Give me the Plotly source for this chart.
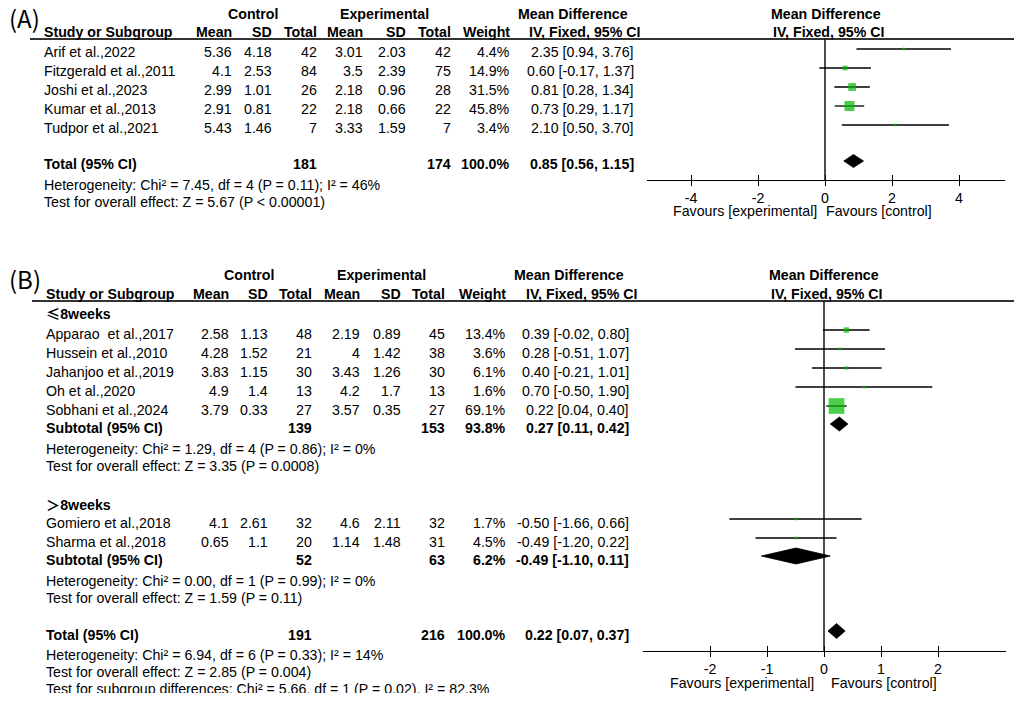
import plotly.graph_objects as go

W, H = 1022, 701
OX, OY = 8, 8            # default page margin of the browser
FW, FH = W - 2 * OX, H - 2 * OY
FONT = "Liberation Sans"
FS = 14.2
GREEN = "#00b800"

# ---------------- panel (A) data ----------------
a_study = ["Arif et al.,2022", "Fitzgerald et al.,2011", "Joshi et al.,2023",
           "Kumar et al.,2013", "Tudpor et al.,2021"]
a_mean_c = [5.36, 4.1, 2.99, 2.91, 5.43]
a_sd_c = [4.18, 2.53, 1.01, 0.81, 1.46]
a_n_c = [42, 84, 26, 22, 7]
a_mean_e = [3.01, 3.5, 2.18, 2.18, 3.33]
a_sd_e = [2.03, 2.39, 0.96, 0.66, 1.59]
a_n_e = [42, 75, 28, 22, 7]
a_weight = [4.4, 14.9, 31.5, 45.8, 3.4]
a_md = [2.35, 0.60, 0.81, 0.73, 2.10]
a_lo = [0.94, -0.17, 0.28, 0.29, 0.50]
a_hi = [3.76, 1.37, 1.34, 1.17, 3.70]
a_tot_nc, a_tot_ne = 181, 174
a_tot_md, a_tot_lo, a_tot_hi = 0.85, 0.56, 1.15
a_stats = ["Heterogeneity: Chi² = 7.45, df = 4 (P = 0.11); I² = 46%",
           "Test for overall effect: Z = 5.67 (P &lt; 0.00001)"]
a_ticks = [-4, -2, 0, 2, 4]

# ---------------- panel (B) data ----------------
b1_label = '<span style="font-family:Noto Sans CJK SC">≤</span>8weeks'
b1_study = ["Apparao  et al.,2017", "Hussein et al.,2010", "Jahanjoo et al.,2019",
            "Oh et al.,2020", "Sobhani et al.,2024"]
b1_mean_c = [2.58, 4.28, 3.83, 4.9, 3.79]
b1_sd_c = [1.13, 1.52, 1.15, 1.4, 0.33]
b1_n_c = [48, 21, 30, 13, 27]
b1_mean_e = [2.19, 4, 3.43, 4.2, 3.57]
b1_sd_e = [0.89, 1.42, 1.26, 1.7, 0.35]
b1_n_e = [45, 38, 30, 13, 27]
b1_weight = [13.4, 3.6, 6.1, 1.6, 69.1]
b1_md = [0.39, 0.28, 0.40, 0.70, 0.22]
b1_lo = [-0.02, -0.51, -0.21, -0.50, 0.04]
b1_hi = [0.80, 1.07, 1.01, 1.90, 0.40]
b1_sub_nc, b1_sub_ne, b1_sub_w = 139, 153, 93.8
b1_sub_md, b1_sub_lo, b1_sub_hi = 0.27, 0.11, 0.42
b1_stats = ["Heterogeneity: Chi² = 1.29, df = 4 (P = 0.86); I² = 0%",
            "Test for overall effect: Z = 3.35 (P = 0.0008)"]

b2_label = '<span style="font-family:Noto Sans CJK SC">＞</span>8weeks'
b2_study = ["Gomiero et al.,2018", "Sharma et al.,2018"]
b2_mean_c = [4.1, 0.65]
b2_sd_c = [2.61, 1.1]
b2_n_c = [32, 20]
b2_mean_e = [4.6, 1.14]
b2_sd_e = [2.11, 1.48]
b2_n_e = [32, 31]
b2_weight = [1.7, 4.5]
b2_md = [-0.50, -0.49]
b2_lo = [-1.66, -1.20]
b2_hi = [0.66, 0.22]
b2_sub_nc, b2_sub_ne, b2_sub_w = 52, 63, 6.2
b2_sub_md, b2_sub_lo, b2_sub_hi = -0.49, -1.10, 0.11
b2_stats = ["Heterogeneity: Chi² = 0.00, df = 1 (P = 0.99); I² = 0%",
            "Test for overall effect: Z = 1.59 (P = 0.11)"]

b_tot_nc, b_tot_ne = 191, 216
b_tot_md, b_tot_lo, b_tot_hi = 0.22, 0.07, 0.37
b_stats = ["Heterogeneity: Chi² = 6.94, df = 6 (P = 0.33); I² = 14%",
           "Test for overall effect: Z = 2.85 (P = 0.004)",
           "Test for subgroup differences: Chi² = 5.66, df = 1 (P = 0.02), I² = 82.3%"]
b_ticks = [-2, -1, 0, 1, 2]

# ---------------- layout helpers (positions in window pixels) ----------------
fig = go.Figure()
annotations = []
shapes = []


def px(x):
    return (x - OX) / FW


def py(y):
    return 1 - (y - OY) / FH


def txt(x, y, text, anchor="right", bold=False, size=FS, family=FONT):
    if bold:
        text = "<b>" + text + "</b>"
    annotations.append(dict(x=px(x), y=y, xref="paper", yref="y", text=text,
                            xanchor=anchor, yanchor="middle", showarrow=False, borderpad=0,
                            font=dict(family=family, size=size, color="black")))


def ci_text(m, l, h):
    return f"{m:.2f} [{l:.2f}, {h:.2f}]"


def header(cols, y1, y2, ctrl_x, exp_x, md_x, md2_x, fp_x, fp2_x, line_x):
    txt(ctrl_x, y1, "Control", "center", True)
    txt(exp_x, y1, "Experimental", "center", True)
    txt(md_x, y1, "Mean Difference", "center", True)
    txt(fp_x, y1, "Mean Difference", "center", True)
    txt(cols[0], y2, "Study or Subgroup", "left", True)
    for x, lab in zip(cols[1:8], ["Mean", "SD", "Total", "Mean", "SD", "Total", "Weight"]):
        txt(x, y2, lab, "right", True)
    txt(md2_x, y2, "IV, Fixed, 95% CI", "center", True)
    txt(fp2_x, y2, "IV, Fixed, 95% CI", "center", True)
    shapes.append(dict(type="line", xref="paper", yref="y", x0=px(line_x[0]), x1=px(line_x[1]),
                       y0=y2 + 7, y1=y2 + 7, line=dict(color="#333333", width=2)))


def study_rows(cols, ys, study, mc, sdc, nc, me, sde, ne, w, md, lo, hi):
    for i, y in enumerate(ys):
        txt(cols[0], y, study[i], "left")
        vals = [f"{mc[i]:g}", f"{sdc[i]:g}", str(nc[i]), f"{me[i]:g}", f"{sde[i]:g}",
                str(ne[i]), f"{w[i]:.1f}%", ci_text(md[i], lo[i], hi[i])]
        for x, v in zip(cols[1:], vals):
            txt(x, y, v, "right")


def total_row(cols, y, label, nc, ne, w, m, l, h):
    txt(cols[0], y, label, "left", True)
    txt(cols[3], y, str(nc), "right", True)
    txt(cols[6], y, str(ne), "right", True)
    txt(cols[7], y, f"{w:.1f}%", "right", True)
    txt(cols[8], y, ci_text(m, l, h), "right", True)


def squares(xaxis, ys, md, lo, hi, w, k):
    fig.add_trace(go.Scatter(
        x=md, y=ys, xaxis=xaxis, yaxis="y", mode="markers", showlegend=False, hoverinfo="skip",
        marker=dict(symbol="square", color=GREEN, line=dict(width=0),
                    size=[max(2.6, k * v ** 0.65) for v in w]),
        error_x=dict(type="data", symmetric=False,
                     array=[h - m for m, h in zip(md, hi)],
                     arrayminus=[m - l for m, l in zip(md, lo)],
                     width=0, thickness=1.3, color="black")))


def diamond(xaxis, y, m, l, h, half):
    fig.add_trace(go.Scatter(
        x=[l, m, h, m, l], y=[y, y - half, y, y + half, y], xaxis=xaxis, yaxis="y",
        mode="lines", fill="toself", fillcolor="black", line=dict(color="black", width=0.8),
        showlegend=False, hoverinfo="skip"))


# ---------------- panel (A) ----------------
colsA = [43, 233, 273, 318, 364, 407, 452, 511, 635]
txt(8, 17, "(A)", "left", size=24, family="Noto Sans CJK SC")
header(colsA, 14, 32, 253, 384, 573, 584, 826, 828, (30, 1017))
ysA = [52 + 19 * i for i in range(len(a_study))]
study_rows(colsA, ysA, a_study, a_mean_c, a_sd_c, a_n_c, a_mean_e, a_sd_e, a_n_e,
           a_weight, a_md, a_lo, a_hi)
total_row(colsA, 164, "Total (95% CI)", a_tot_nc, a_tot_ne, 100.0, a_tot_md, a_tot_lo, a_tot_hi)
for i, s in enumerate(a_stats):
    txt(colsA[0], 185 + 17 * i, s, "left")

offA = -3
squares("x", [y + offA for y in ysA], a_md, a_lo, a_hi, a_weight, 0.83)
diamond("x", 164 + offA, a_tot_md, a_tot_lo, a_tot_hi, 6.5)
shapes.append(dict(type="line", xref="x", yref="y", x0=0, x1=0, y0=39, y1=180,
                   line=dict(color="black", width=1.4)))
txt(818, 211, "Favours [experimental]", "right")
txt(825, 211, "Favours [control]", "left")

# ---------------- panel (B) ----------------
colsB = [45, 230, 269, 313, 361, 402, 446, 507, 630]
txt(8, 278, "(B)", "left", size=24, family="Noto Sans CJK SC")
header(colsB, 275, 294, 249, 381, 569, 581, 824, 826, (32, 1018))

txt(colsB[0], 313, b1_label, "left", True)
ysB1 = [334, 353, 372, 391, 410]
study_rows(colsB, ysB1, b1_study, b1_mean_c, b1_sd_c, b1_n_c, b1_mean_e, b1_sd_e, b1_n_e,
           b1_weight, b1_md, b1_lo, b1_hi)
total_row(colsB, 428, "Subtotal (95% CI)", b1_sub_nc, b1_sub_ne, b1_sub_w,
          b1_sub_md, b1_sub_lo, b1_sub_hi)
for i, s in enumerate(b1_stats):
    txt(colsB[0], 449 + 17 * i, s, "left")

txt(colsB[0], 504, b2_label, "left", True)
ysB2 = [523, 542]
study_rows(colsB, ysB2, b2_study, b2_mean_c, b2_sd_c, b2_n_c, b2_mean_e, b2_sd_e, b2_n_e,
           b2_weight, b2_md, b2_lo, b2_hi)
total_row(colsB, 560, "Subtotal (95% CI)", b2_sub_nc, b2_sub_ne, b2_sub_w,
          b2_sub_md, b2_sub_lo, b2_sub_hi)
for i, s in enumerate(b2_stats):
    txt(colsB[0], 581 + 17 * i, s, "left")

total_row(colsB, 635, "Total (95% CI)", b_tot_nc, b_tot_ne, 100.0, b_tot_md, b_tot_lo, b_tot_hi)
for i, s in enumerate(b_stats):
    txt(colsB[0], 655 + 17 * i, s, "left")

offB = -4
squares("x3", [y + offB for y in ysB1 + ysB2], b1_md + b2_md, b1_lo + b2_lo, b1_hi + b2_hi,
        b1_weight + b2_weight, 1.0)
diamond("x3", 428 + offB, b1_sub_md, b1_sub_lo, b1_sub_hi, 7)
diamond("x3", 560 + offB, b2_sub_md, b2_sub_lo, b2_sub_hi, 8)
diamond("x3", 635 + offB, b_tot_md, b_tot_lo, b_tot_hi, 7.5)
shapes.append(dict(type="line", xref="x3", yref="y", x0=0, x1=0, y0=301, y1=651,
                   line=dict(color="black", width=1.4)))
txt(815, 683, "Favours [experimental]", "right")
txt(830, 683, "Favours [control]", "left")

# invisible traces so the overlay tick axes get drawn
for ax in ["x2", "x4"]:
    fig.add_trace(go.Scatter(x=[0], y=[-50], xaxis=ax, yaxis="y", mode="markers",
                             marker=dict(opacity=0), showlegend=False, hoverinfo="skip"))

tickfont = dict(family=FONT, size=FS, color="black")
axA_range = [(647 - 825) / 33.5, (1005 - 825) / 33.5]
axB_range = [(643 - 824) / 57.0, (1006 - 824) / 57.0]
base = dict(showgrid=False, zeroline=False, anchor="free", fixedrange=True)

fig.update_layout(
    width=FW, height=FH, margin=dict(l=0, r=0, t=0, b=0),
    paper_bgcolor="white", plot_bgcolor="rgba(0,0,0,0)",
    showlegend=False,
    xaxis=dict(**base, domain=[px(647), px(1005)], range=axA_range, position=py(180),
               showline=True, linecolor="black", linewidth=1.4,
               ticks="outside", ticklen=5, tickwidth=1.4, tickcolor="black",
               tickvals=a_ticks, ticktext=[str(t) for t in a_ticks], tickfont=tickfont),
    xaxis2=dict(**base, overlaying="x", range=axA_range, position=py(180),
                showline=False, ticks="inside", ticklen=5, tickwidth=1.4, tickcolor="black",
                tickvals=a_ticks, showticklabels=False),
    xaxis3=dict(**base, domain=[px(643), px(1006)], range=axB_range, position=py(651),
                showline=True, linecolor="black", linewidth=1.4,
                ticks="outside", ticklen=5, tickwidth=1.4, tickcolor="black",
                tickvals=b_ticks, ticktext=[str(t) for t in b_ticks], tickfont=tickfont),
    xaxis4=dict(**base, overlaying="x3", range=axB_range, position=py(651),
                showline=False, ticks="inside", ticklen=5, tickwidth=1.4, tickcolor="black",
                tickvals=b_ticks, showticklabels=False),
    yaxis=dict(range=[OY + FH, OY], domain=[0, 1], visible=False, fixedrange=True),
    annotations=annotations,
    shapes=shapes,
)

fig.write_html("out.html")
